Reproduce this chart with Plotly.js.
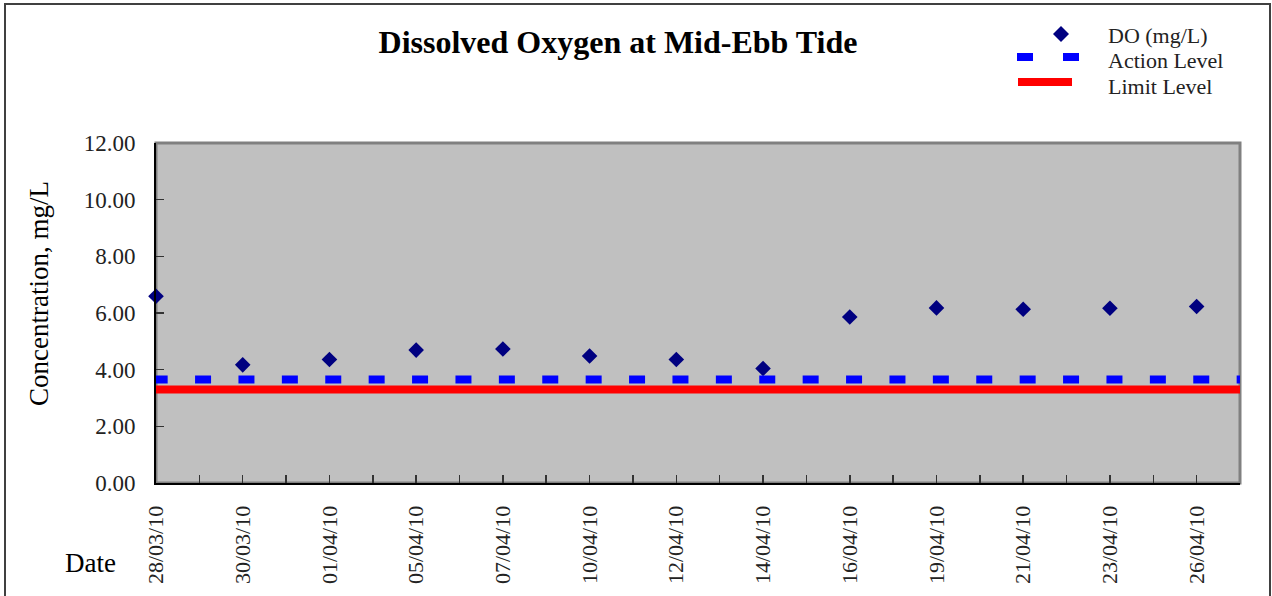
<!DOCTYPE html>
<html>
<head>
<meta charset="utf-8">
<script src="https://cdn.plot.ly/plotly-3.0.1.min.js"></script>
<style>
  html, body { margin: 0; padding: 0; background: #ffffff; }
  #chart { width: 1272px; height: 596px; }
  #frame { position: absolute; left: 4px; top: 3px; width: 1267px; height: 620px;
           border: 2px solid #404040; box-sizing: border-box; pointer-events: none; }
</style>
</head>
<body>
<div id="chart"></div>
<div id="frame"></div>
<script>
// ---- data ----
const dates = ["28/03/10", "30/03/10", "01/04/10", "05/04/10", "07/04/10", "10/04/10",
               "12/04/10", "14/04/10", "16/04/10", "19/04/10", "21/04/10", "23/04/10", "26/04/10"];
const doValues = [6.59, 4.17, 4.36, 4.69, 4.73, 4.48, 4.36, 4.04, 5.86, 6.18, 6.13, 6.17, 6.23];
const actionLevel = 3.65;
const limitLevel = 3.30;
const yTicks = [0, 2, 4, 6, 8, 10, 12];
const seriesNames = ["DO (mg/L)", "Action Level", "Limit Level"];
const seriesColors = ["#000080", "#0000FF", "#FF0000"];

// ---- derived ----
const xIdx = dates.map((d, i) => i);
const xMax = dates.length - 0.5;
const tickVals = [], tickText = [];
for (let i = 0; i <= xMax * 2; i++) {
  tickVals.push(i / 2);
  tickText.push(i % 2 === 0 ? dates[i / 2] : "");
}
const lineX = [-0.05, xMax + 0.05];

const serif = "'Liberation Serif', 'Times New Roman', serif";

// plot-area geometry (pixels) used to place legend / labels in paper coordinates
const M = { l: 156, r: 32, t: 143, b: 113 };
const W = 1272, H = 596;
const pw = W - M.l - M.r, ph = H - M.t - M.b;
const px2x = p => (p - M.l) / pw;
const px2y = p => (H - M.b - p) / ph;

const traces = [
  { type: "scatter", mode: "markers", name: seriesNames[0], x: xIdx, y: doValues,
    marker: { symbol: "diamond", size: 12, color: seriesColors[0] }, cliponaxis: false },
  { type: "scatter", mode: "lines", name: seriesNames[1], x: lineX, y: lineX.map(() => actionLevel),
    line: { color: seriesColors[1], width: 8, dash: "16px,27.4px" } },
  { type: "scatter", mode: "lines", name: seriesNames[2], x: lineX, y: lineX.map(() => limitLevel),
    line: { color: seriesColors[2], width: 8 } }
];

// legend (drawn by hand to match the original spacing)
const legY = [34, 57, 82];
const legText = [35, 60, 87];
const legendShapes = [
  { type: "path", xref: "paper", yref: "paper",
    path: `M ${px2x(1061)} ${px2y(legY[0] - 8)} L ${px2x(1069)} ${px2y(legY[0])} L ${px2x(1061)} ${px2y(legY[0] + 8)} L ${px2x(1053)} ${px2y(legY[0])} Z`,
    fillcolor: seriesColors[0], line: { width: 0 } },
  { type: "line", xref: "paper", yref: "paper", x0: px2x(1017), x1: px2x(1079), y0: px2y(legY[1]), y1: px2y(legY[1]),
    line: { color: seriesColors[1], width: 8, dash: "16px,30px" } },
  { type: "line", xref: "paper", yref: "paper", x0: px2x(1018), x1: px2x(1072), y0: px2y(legY[2]), y1: px2y(legY[2]),
    line: { color: seriesColors[2], width: 8 } }
];
const legendAnn = seriesNames.map((n, i) => ({
  text: n, xref: "paper", yref: "paper", x: px2x(1106), y: px2y(legText[i]),
  xanchor: "left", yanchor: "middle", showarrow: false,
  font: { family: serif, size: 22, color: "#222222" }
}));

const layout = {
  width: W, height: H,
  margin: { l: M.l, r: M.r, t: M.t, b: M.b, autoexpand: false },
  paper_bgcolor: "#ffffff",
  plot_bgcolor: "#C0C0C0",
  font: { family: serif, color: "#222222" },
  title: { text: "<b>Dissolved Oxygen at Mid-Ebb Tide</b>", font: { family: serif, size: 32, color: "#000000" },
           xref: "paper", x: px2x(618), xanchor: "center", yref: "container", y: 1 - 42 / H, yanchor: "middle" },
  showlegend: false,
  xaxis: {
    range: [0, xMax], showgrid: false, zeroline: false,
    tickmode: "array", tickvals: tickVals, ticktext: tickText, tickangle: -90,
    ticks: "inside", ticklen: 8, tickwidth: 1.5, tickcolor: "#333333",
    showline: true, linecolor: "#000000", linewidth: 2,
    tickfont: { family: serif, size: 22, color: "#222222" }, ticklabelstandoff: 12
  },
  yaxis: {
    range: [0, 12], showgrid: false, zeroline: false,
    tickmode: "array", tickvals: yTicks, ticktext: yTicks.map(v => v.toFixed(2)),
    ticks: "inside", ticklen: 8, tickwidth: 1.5, tickcolor: "#333333",
    showline: true, linecolor: "#000000", linewidth: 2,
    tickfont: { family: serif, size: 23, color: "#222222" }, ticklabelstandoff: 14
  },
  shapes: [
    { type: "rect", xref: "paper", yref: "paper", x0: 0, x1: 1, y0: 0, y1: 1,
      line: { color: "#808080", width: 3 }, fillcolor: "rgba(0,0,0,0)", layer: "below" }
  ].concat(legendShapes),
  annotations: [
    { text: "Concentration, mg/L", xref: "paper", yref: "paper", x: px2x(39), y: px2y(294),
      xanchor: "center", yanchor: "middle", textangle: -90, showarrow: false,
      font: { family: serif, size: 27, color: "#000000" } },
    { text: "Date", xref: "paper", yref: "paper", x: px2x(90), y: px2y(563),
      xanchor: "center", yanchor: "middle", showarrow: false,
      font: { family: serif, size: 27, color: "#000000" } }
  ].concat(legendAnn)
};

Plotly.newPlot("chart", traces, layout, { displayModeBar: false, staticPlot: true });
</script>
</body>
</html>
